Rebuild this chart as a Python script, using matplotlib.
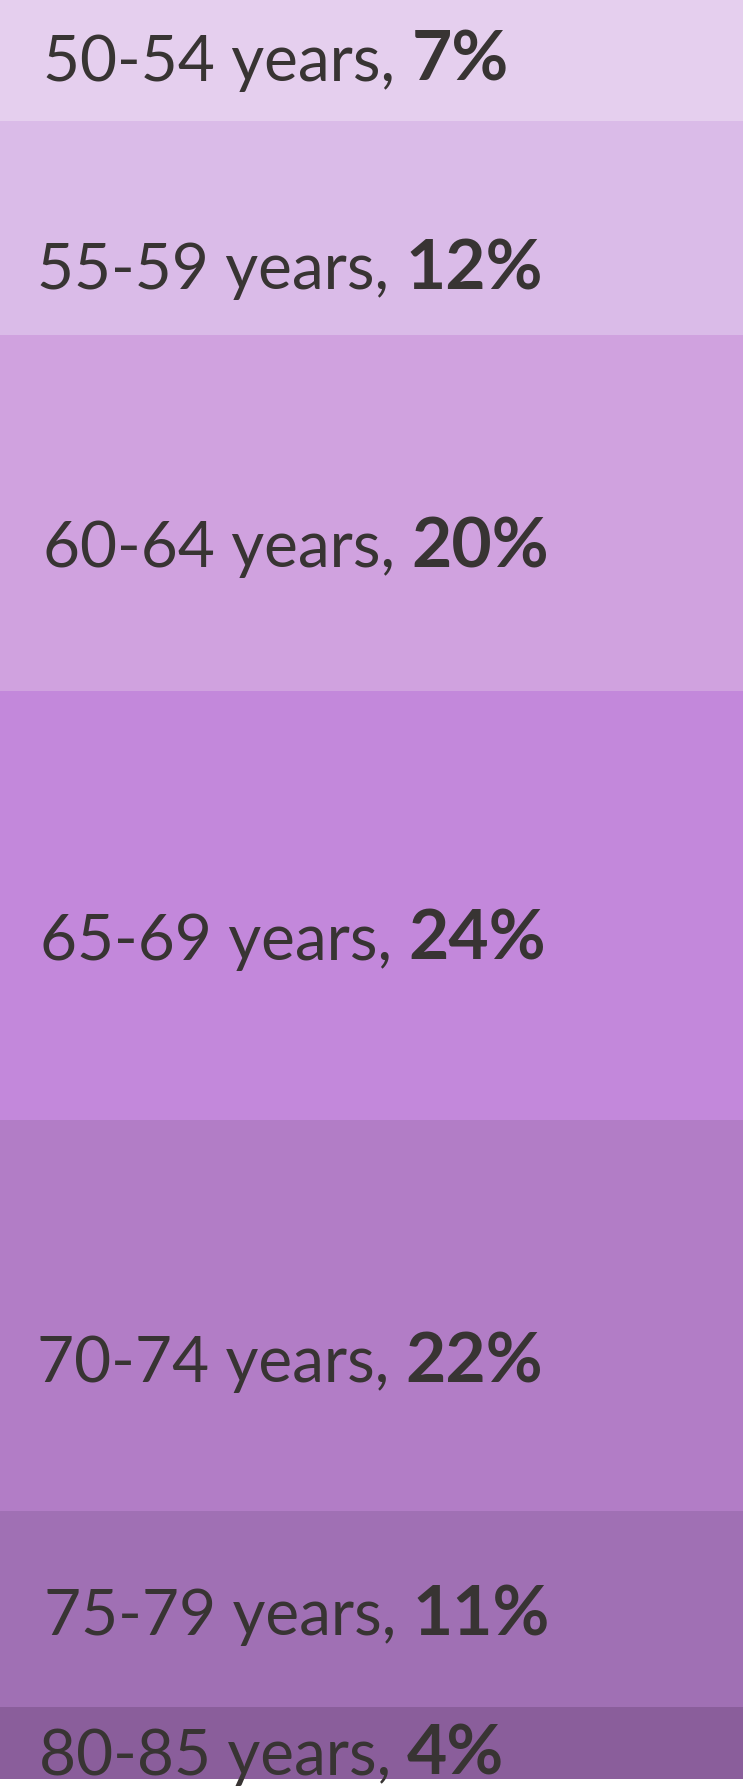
import matplotlib
matplotlib.use("Agg")
import matplotlib.pyplot as plt
from matplotlib.patches import Rectangle

# Data
age_groups = ["50-54 years", "55-59 years", "60-64 years", "65-69 years",
              "70-74 years", "75-79 years", "80-85 years"]
shares = [6.8, 12.0, 20.0, 24.1, 22.0, 11.0, 4.05]
colors = ["#E5CFEE", "#DABBE8", "#D0A2DF", "#C388DB", "#B27DC6", "#A070B4", "#8A5E9B"]

# label placement (fraction of figure width; baseline offset within cell in share units)
label_x = [0.058, 0.050, 0.058, 0.054, 0.050, 0.059, 0.052]
label_dy = [1.13, 3.46, 3.06, 3.06, 3.76, 1.46, 1.8]

W, H, DPI = 743, 1787, 100
fig = plt.figure(figsize=(W / DPI, H / DPI), dpi=DPI)
bottom_px = 8
ax = fig.add_axes([0, bottom_px / H, 1, 1 - bottom_px / H])
total = sum(shares)
ax.set_xlim(0, 1)
ax.set_ylim(total, 0)
ax.axis("off")

font = "Lato"
fs = 46
fs_bold = 50
tcolor = "#383433"

fig.canvas.draw()
renderer = fig.canvas.get_renderer()

y0 = 0.0
for name, s, c, lx, dy in zip(age_groups, shares, colors, label_x, label_dy):
    ax.add_patch(Rectangle((0, y0), 1, s, facecolor=c, edgecolor="none"))
    yc = y0 + s / 2 + dy
    t1 = ax.text(lx, yc, f"{name}, ", fontsize=fs, family=font, color=tcolor,
                 va="baseline", ha="left", clip_on=False)
    bb = t1.get_window_extent(renderer=renderer)
    x2 = ax.transAxes.inverted().transform((bb.x1, bb.y0))[0]
    ax.text(x2, yc, f"{round(s)}%", fontsize=fs_bold, family=font, color=tcolor,
            fontweight="bold", va="baseline", ha="left", clip_on=False)
    y0 += s

fig.savefig("out.png", dpi=DPI)
